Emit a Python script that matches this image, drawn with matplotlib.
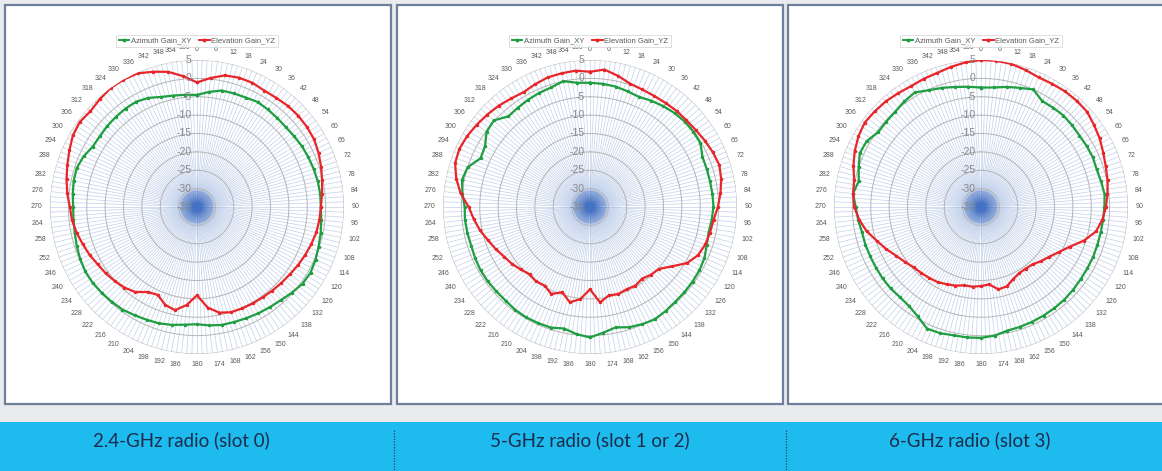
import numpy as np
import matplotlib.pyplot as plt
from matplotlib.patches import Rectangle
from matplotlib.lines import Line2D
import matplotlib.transforms as mtransforms

W, H = 1162, 471

# angles of the measured points (degrees)
angles_deg = list(range(0, 360, 6))

# 2.4 GHz
gain_24_az = [-4.5, -3.5, -2.6, -2.5, -2.4, -2.0, -2.2, -2.4, -2.5, -2.3,
              -2.0, -1.8, -1.6, -1.4, -1.3, -1.3, -1.0, -0.6, -0.2, 0.3,
              0.7, 0.5, -0.2, -0.9, -1.3, -1.6, -1.9, -2.1, -2.2, -2.6,
              -3.1, -2.8, -2.2, -1.7, -1.4, -1.0, -0.5, -0.3, -0.1, 0.1,
              0.1, -0.2, -0.6, -1.0, -1.2, -1.3, -1.0, -0.7, -0.6, -1.2,
              -2.2, -2.3, -2.1, -2.0, -1.9, -1.9, -2.5, -3.5, -4.0, -4.3]
gain_24_el = [-1.1, 0.3, 1.6, 2.0, 2.0, 1.6, 1.7, 2.0, 2.1, 2.0,
              1.8, 1.2, 0.5, -0.2, -0.8, -1.3, -1.5, -1.8, -2.3, -2.8,
              -3.3, -3.8, -4.1, -4.4, -4.6, -4.7, -4.8, -4.9, -5.6, -7.5,
              -11.0, -8.2, -6.3, -7.0, -8.8, -8.3, -6.4, -5.5, -4.9, -4.3,
              -3.8, -3.0, -2.3, -1.5, -0.8, -0.4, 0.5, 1.3, 2.1, 3.0,
              4.0, 4.4, 4.0, 4.5, 5.0, 5.0, 4.8, 3.7, 2.6, 0.8]

# 5 GHz
gain_5_az = [-1.2, -1.3, -1.5, -1.9, -2.2, -1.6, -1.1, -0.6, -0.3, -0.2,
             -0.3, -1.5, -1.6, -1.6, -1.5, -1.4, -1.7, -2.0, -1.6, -0.9,
             -0.6, -0.5, -0.4, -0.3, 0.0, 0.3, -0.1, -0.6, -1.5, -0.6,
             0.5, -0.2, -1.2, -0.5, -0.4, -0.3, -0.4, -0.7, -0.7, -0.6,
             -0.6, -0.8, -1.0, -0.9, -0.8, -0.9, -0.1, 0.6, 0.0, -2.4,
             -2.0, -0.2, 0.2, -1.8, -1.6, -1.3, -1.0, -0.8, 0.0, -1.0]
gain_5_el = [1.8, 2.6, 1.5, 0.3, 0.0, -0.1, 0.0, 0.2, 0.3, 0.6,
             1.1, 1.6, 2.0, 1.5, 0.7, -0.2, -1.2, -1.6, -2.0, -2.8,
             -4.5, -7.5, -9.8, -10.2, -10.9, -10.3, -10.5, -10.1, -10.4, -8.9,
             -12.6, -9.8, -8.5, -10.6, -9.1, -10.3, -10.0, -10.4, -9.6, -8.7,
             -8.0, -6.9, -5.8, -4.4, -3.2, -2.0, 0.4, 2.2, 3.6, 3.9,
             3.6, 3.1, 2.6, 2.1, 1.5, 1.1, 1.6, 2.1, 2.2, 2.3]

# 6 GHz
gain_6_az = [-2.5, -2.3, -1.6, -0.9, 0.0, -1.7, -1.6, -1.5, -1.7, -1.9,
             -1.8, -1.7, -1.9, -1.6, -1.2, -1.4, -1.6, -1.7, -1.7, -1.6,
             -1.6, -1.5, -1.3, -1.1, -1.0, -0.9, -0.8, -0.7, -0.6, 0.2,
             0.6, 0.7, 0.7, 1.1, 1.2, -0.6, -1.7, -2.0, -1.9, -1.9,
             -2.0, -2.0, -1.9, -1.9, -1.4, -0.9, 0.0, -1.0, 0.0, 1.1,
             0.9, -0.4, -0.3, -0.1, 0.5, 1.0, -0.2, -0.9, -1.6, -2.1]
gain_6_el = [5.0, 5.0, 4.8, 4.2, 3.6, 3.7, 3.9, 3.9, 3.8, 3.0,
             2.3, 1.4, 0.7, 0.2, -0.4, -1.0, -1.8, -3.0, -5.5, -8.5,
             -10.5, -12.0, -13.0, -14.0, -14.3, -14.2, -13.5, -12.3, -12.1, -13.8,
             -13.5, -13.2, -13.2, -12.5, -12.0, -11.4, -11.1, -10.8, -10.4, -9.5,
             -8.4, -6.8, -5.2, -3.2, -1.7, -0.5, 0.0, 0.3, 1.5, 2.6,
             3.5, 4.1, 3.9, 3.7, 3.3, 3.0, 3.2, 3.4, 4.0, 4.6]

panel_titles = ["2.4-GHz radio (slot 0)", "5-GHz radio (slot 1 or 2)", "6-GHz radio (slot 3)"]
series_names = ["Azimuth Gain_XY", "Elevation Gain_YZ"]
radial_ticks = [5, 0, -5, -10, -15, -20, -25, -30, -35]
category_ticks = list(range(0, 360, 6))

panels = [(gain_24_az, gain_24_el), (gain_5_az, gain_5_el), (gain_6_az, gain_6_el)]

GREEN = '#1E9E40'
RED = '#E8262A'
plt.rcParams['font.family'] = ['Liberation Sans', 'DejaVu Sans']

fig = plt.figure(figsize=(W / 100, H / 100), dpi=100)
fig.patch.set_facecolor('#E9EBEE')

bg = fig.add_axes([0, 0, 1, 1], zorder=0)
bg.set_xlim(0, W)
bg.set_ylim(H, 0)
bg.axis('off')

# panel frames (x, width, chart centre x, title centre x)
frames = [(5, 386, 197, 181), (397, 386, 590, 590), (788, 380, 981, 970)]
for x0, w, cx, tx in frames:
    bg.add_patch(Rectangle((x0, 5), w, 399, facecolor='white', edgecolor='#6E7F9B', lw=1.6))

# bottom band
bg.add_patch(Rectangle((0, 422), W, 49, facecolor='#1DBBEE', edgecolor='none'))
for sx in (394, 786):
    bg.plot([sx, sx], [430, 471], color='#24406A', lw=0.9, ls=(0, (1, 1.2)))
for (x0, w, cx, tx), title in zip(frames, panel_titles):
    bg.text(tx, 440, title, ha='center', va='center', fontsize=13.5, color='#1C2C4C',
            family=['Lato', 'DejaVu Sans'])

R = 147
cy = 207
theta = np.deg2rad(angles_deg + [angles_deg[0]])
spokes = np.deg2rad(np.arange(0, 360, 2))
circ = np.linspace(0, 2 * np.pi, 361)

for (x0, w, cx, tx), (az, el) in zip(frames, panels):
    ax = fig.add_axes([(cx - R) / W, (H - cy - R) / H, 2 * R / W, 2 * R / H],
                      projection='polar', zorder=2)
    ax.set_facecolor('none')
    ax.set_theta_zero_location('N')
    ax.set_theta_direction(-1)
    ax.set_ylim(-35, 5)
    ax.grid(False)
    ax.set_xticks([])
    ax.set_yticks([])
    ax.spines['polar'].set_visible(False)

    ax.vlines(spokes, -35, 5, color='#4472C4', lw=0.5, alpha=0.33)
    ax.vlines(spokes, -35, -30.5, color='#4472C4', lw=0.6, alpha=0.25)
    for r in radial_ticks[:-1]:
        ax.plot(circ, [r] * len(circ), color='#B4B4B4', lw=0.7)

    ax.plot(theta, az + [az[0]], color=GREEN, lw=1.6, marker='o', ms=1.5)
    ax.plot(theta, el + [el[0]], color=RED, lw=1.6, marker='o', ms=1.5)

    # radial labels
    trans = mtransforms.offset_copy(ax.transData, fig=fig, x=-4, y=0, units='points')
    for r in radial_ticks:
        ax.text(0, r, str(r), transform=trans, ha='right', va='center',
                fontsize=7.5, color='#8A8A8A')

    # category labels
    for a in category_ticks:
        s, c = np.sin(np.deg2rad(a)), np.cos(np.deg2rad(a))
        ha = 'left' if s > 0.05 else ('right' if s < -0.05 else 'center')
        va = 'bottom' if c > 0.3 else ('top' if c < -0.3 else 'center')
        pos = a - 1.5 if a == 354 else a
        ax.text(np.deg2rad(pos), 7.0, str(a), ha=ha, va=va, fontsize=5, color='#595959')
    ax.text(np.deg2rad(355.5), 7.6, '360', ha='center', va='bottom', fontsize=5, color='#595959')

    handles = [Line2D([], [], color=GREEN, lw=1.4, marker='o', ms=1.8),
               Line2D([], [], color=RED, lw=1.4, marker='o', ms=1.8)]
    leg = ax.legend(handles, series_names, loc='center', bbox_to_anchor=(cx / W, 1 - 41 / H),
                    bbox_transform=fig.transFigure, ncol=2, fontsize=5.5, frameon=True,
                    fancybox=False, edgecolor='#D0D0D0', handlelength=1.4, handletextpad=0.2,
                    columnspacing=1.0, borderpad=0.35, labelcolor='#595959')
    leg.get_frame().set_linewidth(0.6)

fig.savefig('out.png', dpi=100, facecolor=fig.get_facecolor())
